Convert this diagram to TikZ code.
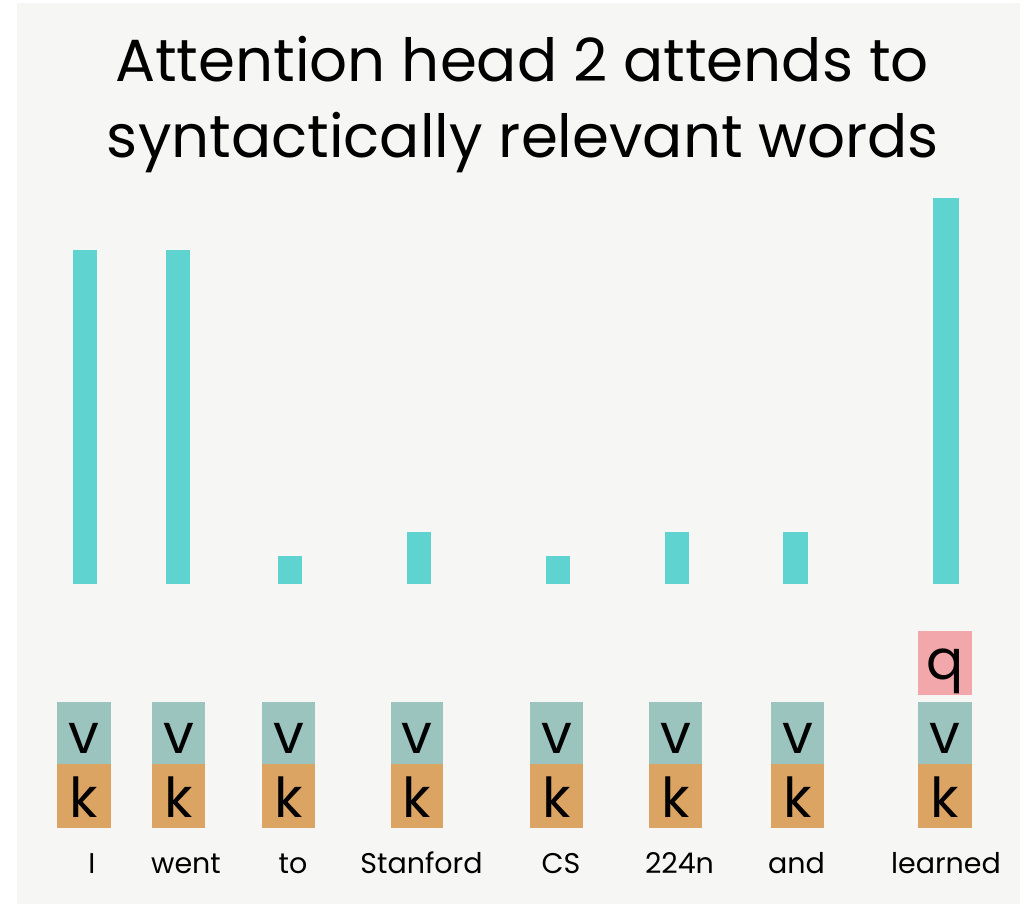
\documentclass[tikz,border=0pt]{standalone}
\usepackage{fontspec}
\setmainfont{Poppins}
\definecolor{panel}{HTML}{F6F7F5}
\definecolor{barcol}{HTML}{5FD3CF}
\definecolor{vcol}{HTML}{9BC4BF}
\definecolor{kcol}{HTML}{DCA462}
\definecolor{qcol}{HTML}{F2A8AA}
\tikzset{
  bar/.style={fill=barcol},
  vbox/.style={fill=vcol},
  kbox/.style={fill=kcol},
  qbox/.style={fill=qcol},
  letter/.style={anchor=base,inner sep=0pt,font=\fontsize{55}{55}\selectfont},
  word/.style={anchor=base,inner sep=0pt,font=\fontsize{28.5}{28.5}\selectfont},
  title/.style={anchor=base,inner sep=0pt,font=\fontsize{59.5}{59.5}\selectfont}
}
\begin{document}
\begin{tikzpicture}[x=1pt,y=-1pt]
  \useasboundingbox (0,0) rectangle (1024,906);
  \fill[white] (0,0) rectangle (1024,906);
  \fill[panel] (17,3) rectangle (1020,904);
  % title
  \node[title] (t1) at (522,81) {Attention head 2 attends to};
  \node[title] (t2) at (523,157) {syntactically relevant words};
  % attention weights
  \foreach \xa/\xb/\top in {73/97/250, 166/190/250, 278/302/556, 407/431/532,
                            546/570/556, 665/689/532, 783/808/532, 933/959/198}
    \fill[bar] (\xa,\top) rectangle (\xb,584);
  % value and key boxes with word labels
  \foreach \i/\xa/\xb/\lx/\w in {1/57/111/92/I, 2/152/205/186/went, 3/262/315/293/to,
                                4/391/443/421.5/Stanford, 5/530/583/561/CS,
                                6/649/702/679.5/224n, 7/771/824/796.5/and,
                                8/918/972/946/learned}{
    \fill[vbox] (\xa,702) rectangle (\xb,764);
    \fill[kbox] (\xa,764) rectangle (\xb,828);
    \node[letter] (v\i) at ({(\xa+\xb)/2},753) {v};
    \node[letter] (k\i) at ({(\xa+\xb)/2},817) {k};
    \node[word] (w\i) at (\lx,873) {\w};
  }
  % query of the attending word
  \fill[qbox] (918,631) rectangle (972,695);
  \node[letter] (q8) at (945,679) {q};
\end{tikzpicture}
\end{document}
